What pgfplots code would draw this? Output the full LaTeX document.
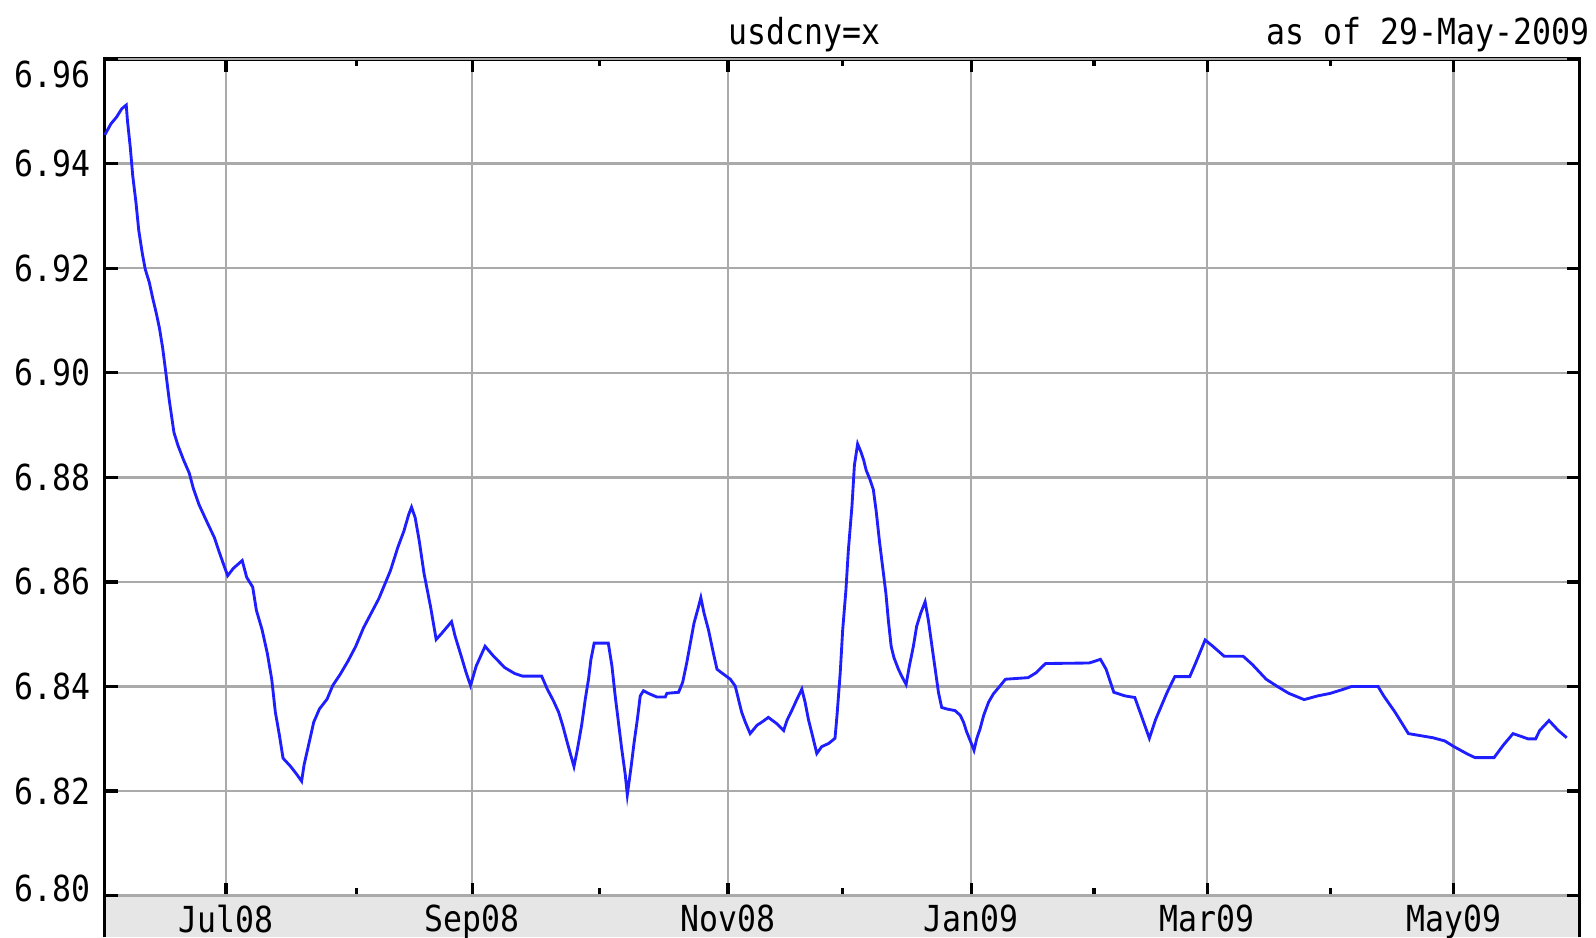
\documentclass[border=0pt]{standalone}
\usepackage{fontspec}
\setmainfont{DejaVu Sans Mono}
\newfontfamily\chartfont[FakeStretch=0.88]{DejaVu Sans Mono}
\usepackage{pgfplots}
\usepackage{pgfplotstable}
\pgfplotsset{compat=1.18}

\definecolor{linecol}{RGB}{30,30,255}
\definecolor{gridcol}{RGB}{170,170,170}
\definecolor{bandcol}{RGB}{230,230,230}

% day = days since 1-Jun-2008
\pgfplotstableread{
day rate
0.0 6.9455
1.5 6.9476
2.9 6.9489
4.2 6.9505
5.3 6.9512
5.6 6.9482
6.3 6.9431
6.9 6.9377
7.7 6.9326
8.4 6.9272
9.3 6.9227
10.0 6.9198
11.0 6.9173
11.9 6.9141
12.7 6.9115
13.5 6.9086
14.3 6.9048
15.1 6.9000
15.9 6.8950
17.1 6.8886
18.1 6.8861
19.5 6.8833
20.9 6.8808
21.9 6.8779
23.3 6.8748
25.2 6.8716
27.1 6.8685
28.5 6.8653
29.5 6.8631
30.4 6.8612
31.8 6.8626
34.0 6.8641
35.1 6.8609
36.6 6.8590
37.5 6.8546
38.9 6.8509
40.2 6.8464
41.3 6.8414
42.2 6.8351
43.2 6.8307
44.1 6.8263
46.0 6.8247
47.5 6.8232
48.7 6.8219
49.3 6.8250
50.8 6.8301
51.7 6.8332
53.1 6.8357
55.0 6.8376
56.4 6.8402
58.3 6.8424
60.2 6.8449
62.1 6.8477
64.0 6.8512
65.9 6.8540
67.8 6.8568
69.2 6.8594
70.7 6.8622
72.5 6.8666
74.0 6.8697
75.2 6.8729
75.9 6.8743
76.8 6.8723
77.8 6.8679
79.0 6.8616
80.6 6.8553
82.0 6.8490
83.4 6.8502
85.8 6.8524
86.7 6.8496
88.2 6.8458
89.4 6.8427
90.5 6.8402
91.9 6.8439
94.1 6.8477
96.2 6.8458
99.0 6.8436
101.4 6.8425
103.3 6.8420
108.1 6.8420
109.5 6.8395
111.0 6.8373
112.3 6.8351
113.3 6.8326
114.3 6.8297
115.3 6.8269
116.1 6.8247
117.0 6.8282
118.0 6.8326
118.9 6.8376
119.7 6.8414
120.3 6.8452
121.1 6.8483
124.6 6.8483
125.5 6.8439
126.3 6.8382
127.1 6.8332
127.9 6.8282
128.8 6.8231
129.3 6.8193
130.2 6.8244
131.0 6.8294
131.8 6.8338
132.5 6.8382
133.3 6.8392
134.5 6.8387
136.6 6.8380
138.7 6.8380
139.1 6.8387
142.0 6.8389
143.0 6.8408
144.0 6.8445
144.9 6.8483
145.8 6.8521
146.9 6.8552
147.5 6.8570
148.3 6.8540
149.4 6.8508
150.6 6.8464
151.5 6.8433
152.7 6.8426
154.8 6.8414
156.0 6.8401
156.8 6.8376
157.6 6.8351
158.5 6.8332
159.7 6.8310
161.4 6.8326
162.6 6.8332
164.2 6.8341
166.3 6.8329
168.0 6.8316
168.8 6.8335
170.0 6.8354
171.3 6.8376
172.5 6.8395
173.3 6.8370
174.1 6.8338
175.0 6.8310
176.2 6.8272
177.4 6.8285
179.1 6.8291
180.7 6.8301
181.2 6.8345
182.0 6.8427
182.6 6.8508
183.4 6.8584
184.0 6.8660
184.9 6.8745
185.5 6.8823
186.3 6.8864
187.1 6.8849
187.8 6.8833
188.4 6.8814
189.4 6.8795
190.2 6.8776
190.9 6.8735
191.7 6.8678
192.5 6.8628
193.3 6.8578
193.9 6.8527
194.6 6.8477
195.3 6.8455
196.4 6.8433
197.2 6.8420
198.3 6.8404
199.1 6.8439
200.1 6.8477
200.9 6.8515
201.9 6.8540
203.0 6.8562
203.8 6.8527
204.7 6.8477
205.5 6.8433
206.3 6.8389
207.1 6.8360
208.4 6.8357
210.4 6.8354
211.7 6.8345
212.5 6.8332
213.3 6.8313
214.3 6.8294
215.1 6.8278
215.8 6.8301
216.6 6.8319
217.5 6.8345
218.7 6.8370
219.9 6.8386
221.2 6.8398
222.9 6.8414
228.5 6.8417
230.4 6.8426
232.8 6.8444
243.6 6.8445
246.4 6.8452
247.8 6.8433
249.7 6.8389
252.5 6.8382
254.9 6.8379
256.8 6.8338
258.5 6.8301
260.1 6.8338
262.9 6.8389
264.8 6.8419
268.5 6.8419
269.9 6.8444
272.3 6.8489
274.2 6.8477
277.0 6.8458
281.7 6.8458
284.0 6.8442
287.4 6.8414
290.2 6.8400
293.0 6.8387
296.8 6.8375
300.1 6.8382
303.3 6.8387
306.2 6.8394
308.5 6.8400
315.1 6.8400
316.5 6.8382
319.3 6.8351
322.6 6.8310
328.7 6.8302
331.6 6.8296
333.9 6.8285
337.2 6.8271
339.1 6.8264
343.8 6.8264
346.1 6.8288
348.5 6.8310
352.2 6.8300
354.1 6.8300
355.1 6.8316
357.4 6.8335
359.7 6.8316
361.8 6.8302
}\usdcny

\begin{document}
\begin{tikzpicture}
% grey date band under the plot
\fill[bandcol] (0,0) rectangle (362.25pt,-10.25pt);
\draw[line width=0.8pt] (0,-10.25pt) -- (0,0) (362.25pt,-10.25pt) -- (362.25pt,0);
\begin{axis}[
    at={(0,0)}, anchor=south west,
    scale only axis,
    width=362.25pt, height=205.5pt,
    xmin=0, xmax=365,
    ymin=6.80, ymax=6.96,
    clip=false,
    axis line style={line width=0.8pt},
    tick style={black, line width=0.8pt},
    major tick length=3.2pt, minor tick length=1.8pt,
    tick align=inside,
    xtick pos=both, ytick pos=both,
    xticklabel pos=lower, yticklabel pos=left,
    xtick={30,90.9,154.2,214.4,272.8,333.8},
    xticklabels={Jul08,Sep08,Nov08,Jan09,Mar09,May09},
    minor xtick={62.2,122.4,182.6,244.8,303.3},
    ytick={6.82,6.84,6.86,6.88,6.90,6.92,6.94},
    extra y ticks={6.80,6.96},
    extra y tick style={yticklabel style={yshift={ifthenelse(\ticknum==0,1.75pt,-3.75pt)}}},
    grid=major,
    major grid style={gridcol, line width=0.6pt},
    ticklabel style={font=\chartfont\fontsize{8.8}{10}\selectfont},
    xticklabel style={yshift=1.2pt},
    /pgf/number format/assume math mode=true,
    yticklabel style={/pgf/number format/fixed, /pgf/number format/fixed zerofill,
        /pgf/number format/precision=2},
]
\addplot[linecol, line width=0.7pt] table[x=day, y=rate] {\usdcny};
\node[anchor=base, inner sep=0pt, xshift=171.75pt, yshift=3.6pt, font=\chartfont\fontsize{8.8}{10}\selectfont]
    at (rel axis cs:0,1) {usdcny=x};
\node[anchor=base east, inner sep=0pt, xshift=2.5pt, yshift=3.6pt, font=\chartfont\fontsize{8.8}{10}\selectfont]
    at (rel axis cs:1,1) {as of 29-May-2009};
\end{axis}
\pgfresetboundingbox
\path[use as bounding box] (-25.75pt,-10.25pt) rectangle (366.25pt,220pt);
\end{tikzpicture}
\end{document}
